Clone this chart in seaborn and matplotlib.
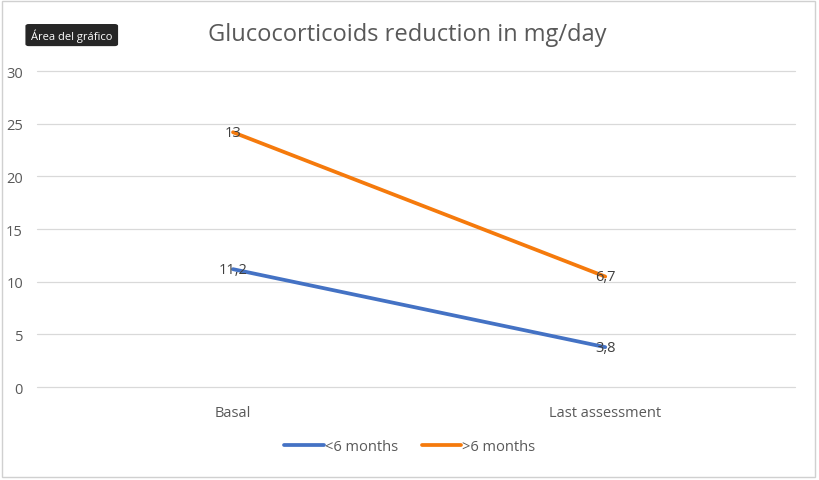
import pandas as pd
import matplotlib.pyplot as plt
import matplotlib.patches as mpatches
import seaborn as sns

# data (stacked line chart, labels show each series' own value)
categories = ["Basal", "Last assessment"]
less_6 = [11.2, 3.8]
more_6 = [13, 6.7]
series_names = ["<6 months", ">6 months"]
colors = ["#4472C4", "#F57A0C"]
yticks = [0, 5, 10, 15, 20, 25, 30]

df = pd.DataFrame({"category": categories, series_names[0]: less_6, series_names[1]: more_6})
# stacked: second series sits on top of the first
stacked = df[series_names].cumsum(axis=1)
stacked["category"] = df["category"]
long_df = stacked.melt(id_vars="category", var_name="group", value_name="value")
labels_df = df.melt(id_vars="category", var_name="group", value_name="label")
long_df["label"] = labels_df["label"]
long_df["x"] = long_df["category"].map({c: i for i, c in enumerate(categories)})

sns.set_theme(style="white")
plt.rcParams["font.family"] = ["Open Sans", "DejaVu Sans"]

fig = plt.figure(figsize=(8.2, 4.81), dpi=100)
ax = fig.add_axes([0.045, 0.193, 0.925, 0.657])

sns.lineplot(data=long_df, x="x", y="value", hue="group", palette=colors,
             linewidth=2.7, ax=ax, legend=False, sort=False)

for _, row in long_df.iterrows():
    txt = f"{row['label']:g}".replace(".", ",")
    ax.text(row["x"], row["value"], txt, ha="center", va="center",
            fontsize=10.5, color="#404040")

ax.set_xlim(-0.527, 1.511)
ax.set_ylim(0, 30)
ax.set_yticks(yticks)
ax.set_yticklabels([str(t) for t in yticks], fontsize=10.5, color="#595959")
ax.set_xticks(range(len(categories)))
ax.set_xticklabels(categories, fontsize=10.5, color="#595959")
ax.tick_params(axis="y", length=0, pad=10)
ax.tick_params(axis="x", length=0, pad=13)
ax.yaxis.grid(True, color="#D9D9D9", linewidth=0.9)
for gl in ax.get_ygridlines():
    gl.set_clip_on(False)
ax.set_axisbelow(True)
for s in ax.spines.values():
    s.set_visible(False)
ax.set_xlabel("")
ax.set_ylabel("")

fig.text(0.497, 0.927, "Glucocorticoids reduction in mg/day", ha="center", va="center",
         fontsize=17, color="#595959")

handles = [plt.Line2D([], [], color=c, linewidth=2.7) for c in colors]
fig.legend(handles, series_names, loc="center", bbox_to_anchor=(0.5, 0.07), ncol=2,
           frameon=False, fontsize=10.5, handlelength=2.7, handletextpad=0.1,
           columnspacing=1.6, labelcolor="#595959")

# tooltip box
fig.patches.append(mpatches.FancyBboxPatch((0.031, 0.902), 0.113, 0.046,
                   boxstyle="round,pad=0,rounding_size=0.004", transform=fig.transFigure,
                   facecolor="#262626", edgecolor="none"))
fig.text(0.0875, 0.925, "Área del gráfico", ha="center", va="center", fontsize=8,
         color="white")

# outer frame
fig.patches.append(mpatches.Rectangle((0.003, 0.006), 0.991, 0.99, transform=fig.transFigure,
                   fill=False, edgecolor="#D0D0D0", linewidth=1))

fig.savefig("out.png", dpi=100)
